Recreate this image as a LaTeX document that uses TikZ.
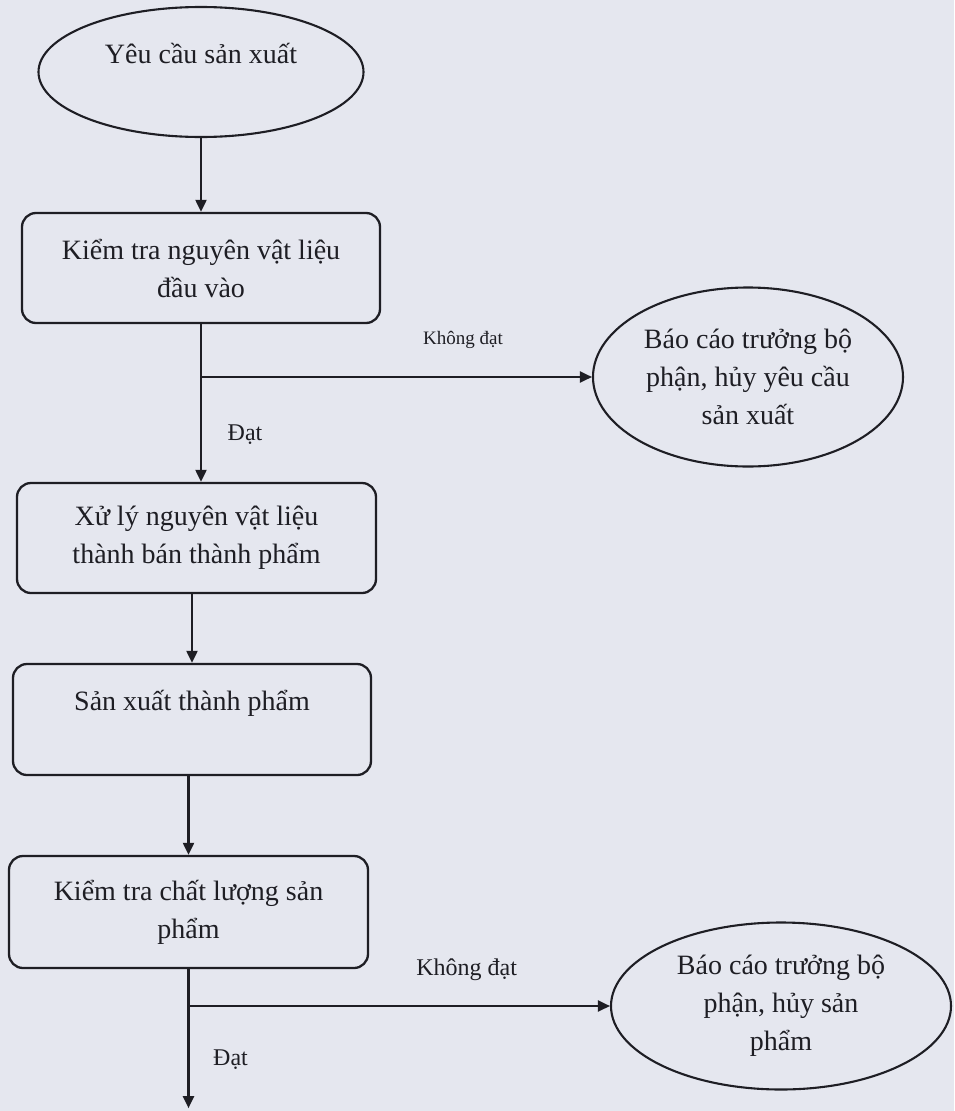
\documentclass[tikz,border=0pt]{standalone}
\usepackage{fontspec}
\setmainfont{Liberation Serif}
\usetikzlibrary{arrows.meta,shapes.geometric,calc}
\definecolor{paper}{RGB}{229,231,239}
\definecolor{ink}{RGB}{30,30,36}
\newcommand\mainfs{\fontsize{28}{38}\selectfont}
\begin{document}
\begin{tikzpicture}[x=1pt,y=-1pt,
  box/.style={draw=ink, line width=2.3pt, rounded corners=14pt, inner sep=0pt,
    align=center, font=\mainfs, text=ink},
  oval/.style={ellipse, draw=ink, line width=2.1pt, inner sep=0pt,
    align=center, font=\mainfs, text=ink},
  conn/.style={draw=ink, line width=2.1pt},
  arr/.style={conn, -{Triangle[length=12pt,width=11pt]}},
  lblsmall/.style={font=\fontsize{19}{23}\selectfont, text=ink},
  lbl/.style={font=\fontsize{24}{28}\selectfont, text=ink}]
\fill[paper] (0,0) rectangle (954,1111);
\useasboundingbox (0,0) rectangle (954,1111);

\node[oval, minimum width=325pt, minimum height=130pt] (e1) at (201,72) {Yêu cầu sản xuất\\\mbox{}};
\node[box, minimum width=358pt, minimum height=110pt] (b1) at (201,268) {Kiểm tra nguyên vật liệu\\đầu vào};
\node[oval, minimum width=310pt, minimum height=179pt] (e2) at (748,377) {Báo cáo trưởng bộ\\phận, hủy yêu cầu\\sản xuất};
\node[box, minimum width=359pt, minimum height=110pt] (b2) at (196.5,538) {Xử lý nguyên vật liệu\\thành bán thành phẩm};
\node[box, minimum width=358pt, minimum height=111pt] (b3) at (192,719.5) {Sản xuất thành phẩm\\\mbox{}};
\node[box, minimum width=359pt, minimum height=112pt] (b4) at (188.5,912) {Kiểm tra chất lượng sản\\phẩm};
\node[oval, minimum width=340pt, minimum height=167pt] (e3) at (781,1006) {Báo cáo trưởng bộ\\phận, hủy sản\\phẩm};

\draw[arr] (e1) -- (b1);
\draw[arr] (b1.south) -- (b1.south |- b2.north) node[lbl,pos=0.7,xshift=44pt] (l1) {Đạt};
\coordinate (j1) at (b1.south |- e2.west);
\draw[arr] (j1) -- (e2.west) node[lblsmall,pos=0.67,yshift=37pt] (l2) {Không đạt};
\draw[arr] (b3.north |- b2.south) -- (b3.north);
\draw[arr] (b4.north |- b3.south) -- (b4.north);
\coordinate (fin) at ($(b4.south)+(0,139)$);
\draw[arr] (b4.south) -- (fin) node[lbl,pos=0.65,xshift=42pt] (l3) {Đạt};
\coordinate (j2) at (b4.south |- e3.west);
\draw[arr] (j2) -- (e3.west) node[lbl,pos=0.66,yshift=36pt] (l4) {Không đạt};
\end{tikzpicture}
\end{document}
